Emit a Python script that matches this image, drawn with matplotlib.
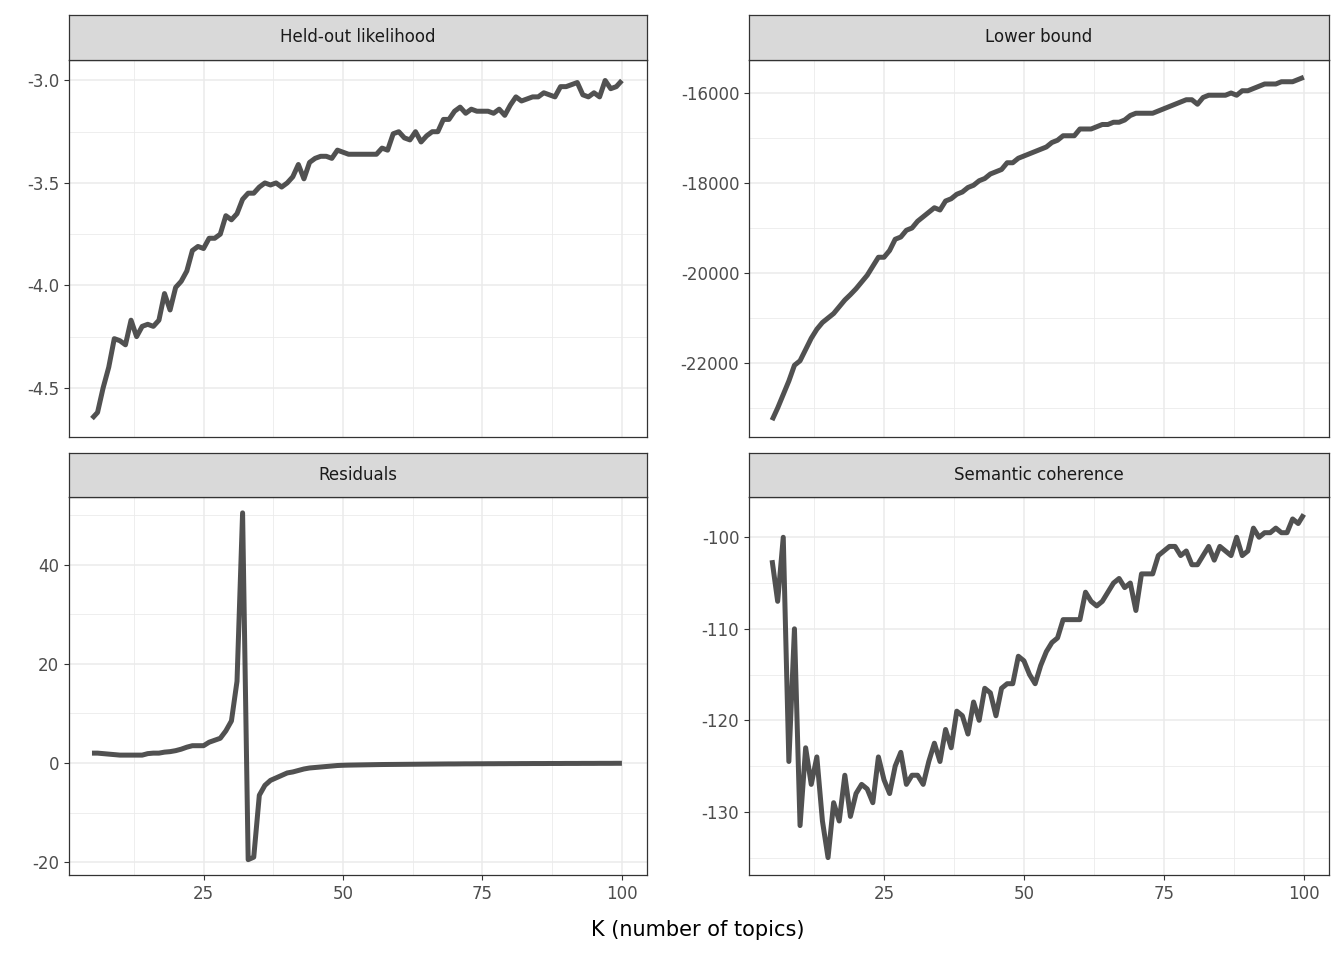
import numpy as np
import matplotlib
matplotlib.use("Agg")
import matplotlib.pyplot as plt
from matplotlib.ticker import MultipleLocator, FixedLocator

K = list(range(5, 101))

heldout = [-4.65,-4.62,-4.5,-4.4,-4.26,-4.27,-4.29,-4.17,-4.25,-4.2,-4.19,-4.2,-4.17,-4.04,-4.12,-4.01,-3.98,-3.93,-3.83,-3.81,
           -3.82,-3.77,-3.77,-3.75,-3.66,-3.68,-3.65,-3.58,-3.55,-3.55,-3.52,-3.50,-3.51,-3.50,-3.52,-3.50,-3.47,-3.41,-3.48,-3.40,
           -3.38,-3.37,-3.37,-3.38,-3.34,-3.35,-3.36,-3.36,-3.36,-3.36,-3.36,-3.36,-3.33,-3.34,-3.26,-3.25,-3.28,-3.29,-3.25,-3.30,
           -3.27,-3.25,-3.25,-3.19,-3.19,-3.15,-3.13,-3.16,-3.14,-3.15,-3.15,-3.15,-3.16,-3.14,-3.17,-3.12,-3.08,-3.10,-3.09,-3.08,
           -3.08,-3.06,-3.07,-3.08,-3.03,-3.03,-3.02,-3.01,-3.07,-3.08,-3.06,-3.08,-3.00,-3.04,-3.03,-3.00]

lowerbound = [-23270,-23000,-22700,-22400,-22050,-21950,-21700,-21450,-21250,-21100,-21000,-20900,-20750,-20600,-20480,-20350,
              -20200,-20050,-19850,-19650,-19650,-19500,-19250,-19200,-19050,-19000,-18850,-18750,-18650,-18550,-18600,-18400,
              -18350,-18250,-18200,-18100,-18050,-17950,-17900,-17800,-17750,-17700,-17550,-17550,-17450,-17400,-17350,-17300,
              -17250,-17200,-17100,-17050,-16950,-16950,-16950,-16800,-16800,-16800,-16750,-16700,-16700,-16650,-16650,-16600,
              -16500,-16450,-16450,-16450,-16450,-16400,-16350,-16300,-16250,-16200,-16150,-16150,-16250,-16100,-16050,-16050,
              -16050,-16050,-16000,-16050,-15950,-15950,-15900,-15850,-15800,-15800,-15800,-15750,-15750,-15750,-15700,-15650]

residuals = [2.0,2.0,1.9,1.8,1.7,1.6,1.6,1.6,1.6,1.6,1.9,2.0,2.0,2.2,2.3,2.5,2.8,3.2,3.5,3.5,3.5,4.2,4.6,5.0,6.5,8.5,16.5,50.5,
             -19.5,-19.0,-6.5,-4.5,-3.5,-3.0,-2.5,-2.0,-1.8,-1.5,-1.2,-1.0,-0.9,-0.8,-0.7,-0.6,-0.5,-0.45,
             -0.42,-0.40,-0.38,-0.36,-0.34,-0.32,-0.30,-0.29,-0.28,-0.27,-0.26,-0.25,-0.24,-0.23,-0.22,-0.21,-0.20,-0.19,-0.18,-0.18,
             -0.17,-0.16,-0.16,-0.15,-0.15,-0.14,-0.14,-0.13,-0.13,-0.12,-0.12,-0.11,-0.11,-0.10,-0.10,-0.10,-0.09,-0.09,-0.09,-0.08,
             -0.08,-0.08,-0.07,-0.07,-0.07,-0.06,-0.06,-0.06,-0.05,-0.05]

semcoh = [-102.5,-107,-100,-124.5,-110,-131.5,-123,-127,-124,-131,-135,-129,-131,-126,-130.5,-128,-127,-127.5,-129,-124,
          -126.5,-128,-125,-123.5,-127,-126,-126,-127,-124.5,-122.5,-124.5,-121,-123,-119,-119.5,-121.5,-118,-120,-116.5,-117,
          -119.5,-116.5,-116,-116,-113,-113.5,-115,-116,-114,-112.5,-111.5,-111,-109,-109,-109,-109,-106,-107,-107.5,-107,
          -106,-105,-104.5,-105.5,-105,-108,-104,-104,-104,-102,-101.5,-101,-101,-102,-101.5,-103,-103,-102,-101,-102.5,
          -101,-101.5,-102,-100,-102,-101.5,-99,-100,-99.5,-99.5,-99,-99.5,-99.5,-98,-98.5,-97.5]

titles = ["Held-out likelihood", "Lower bound", "Residuals", "Semantic coherence"]
series = [heldout, lowerbound, residuals, semcoh]
ylims = [(-4.74, -2.90), (-23644, -15267), (-22.6, 53.7), (-136.9, -95.6)]
yticks = [[-4.5, -4.0, -3.5, -3.0], [-22000, -20000, -18000, -16000], [-20, 0, 20, 40], [-130, -120, -110, -100]]
ylabels = [["-4.5", "-4.0", "-3.5", "-3.0"], ["-22000", "-20000", "-18000", "-16000"], ["-20", "0", "20", "40"], ["-130", "-120", "-110", "-100"]]

W, H = 1344, 960
fig = plt.figure(figsize=(W/100, H/100), dpi=100)
fig.patch.set_facecolor("white")

cols = [(69, 647), (749, 1329)]
rows = [(15, 60, 437), (453, 497, 875)]

for i in range(4):
    r, c = divmod(i, 2)
    x0, x1 = cols[c]
    s0, p0, p1 = rows[r]
    ax = fig.add_axes([x0/W, 1-p1/H, (x1-x0)/W, (p1-p0)/H])
    ax.set_facecolor("white")
    ax.set_xlim(0.88, 104.5)
    ax.set_ylim(*ylims[i])
    ax.xaxis.set_major_locator(FixedLocator([25, 50, 75, 100]))
    ax.xaxis.set_minor_locator(FixedLocator([12.5, 37.5, 62.5, 87.5]))
    yt = yticks[i]
    step = yt[1]-yt[0]
    ax.yaxis.set_major_locator(FixedLocator(yt))
    ax.yaxis.set_minor_locator(FixedLocator([yt[0]-step/2] + [v+step/2 for v in yt]))
    ax.set_yticklabels(ylabels[i])
    ax.grid(which="major", color="#EBEBEB", lw=1.1)
    ax.grid(which="minor", color="#EBEBEB", lw=0.6)
    ax.set_axisbelow(True)
    ax.tick_params(which="major", length=3.5, color="#333333", labelsize=12, labelcolor="#4D4D4D", width=0.8)
    ax.tick_params(which="minor", length=0)
    if r == 0:
        ax.tick_params(axis="x", which="major", labelbottom=False, length=0)
    for sp in ax.spines.values():
        sp.set_color("#333333"); sp.set_linewidth(0.9)
    ax.plot(K, series[i], color="#333333", alpha=0.85, lw=3.6, solid_joinstyle="round", solid_capstyle="butt")

    sax = fig.add_axes([x0/W, 1-p0/H, (x1-x0)/W, (p0-s0)/H])
    sax.set_facecolor("#D9D9D9")
    sax.set_xticks([]); sax.set_yticks([])
    for sp in sax.spines.values():
        sp.set_color("#333333"); sp.set_linewidth(0.9)
    sax.text(0.5, 0.5, titles[i], ha="center", va="center", fontsize=12, color="#1A1A1A", transform=sax.transAxes)

fig.text(698/W, 1-930/H, "K (number of topics)", ha="center", va="center", fontsize=15)
fig.savefig("out.png", dpi=100)
